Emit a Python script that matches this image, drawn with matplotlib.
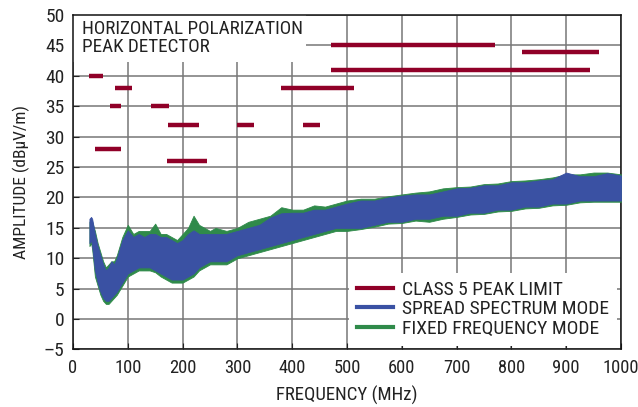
import numpy as np
import matplotlib.pyplot as plt
from matplotlib.patches import Rectangle

plt.rcParams['font.family'] = ['Roboto Condensed', 'DejaVu Sans']

# noise envelopes (MHz, dBuV/m)
freq = [30, 33, 35, 40, 45, 50, 55, 60, 65, 70, 75, 80, 90, 100, 110, 120, 130,
        140, 150, 160, 170, 180, 190, 200, 210, 220, 230, 240, 250, 260, 280,
        300, 320, 340, 360, 380, 400, 420, 440, 460, 480, 500, 525, 550, 575,
        600, 625, 650, 675, 700, 725, 750, 775, 800, 825, 850, 875, 900, 925,
        950, 975, 1000]
ss_lo = [12.5, 13, 12, 8, 6, 4.5, 3.5, 3, 3, 3.5, 4, 4.5, 6, 7.5, 8, 8.5, 8.5,
         8.5, 8, 7.5, 7, 6.5, 6.5, 6.5, 7, 7.5, 8.5, 9, 9.5, 9.5, 9.5,
         10.5, 11, 11.5, 12, 12.5, 13, 13.5, 14, 14.5, 15, 15, 15, 15.5, 16,
         16, 16.5, 16.5, 17, 17, 17.5, 17.5, 18, 18, 18.5, 18.5, 19, 19, 19.5,
         19.5, 19.5, 19.5]
ss_hi = [16.5, 16.8, 16.5, 14, 12, 10.5, 9, 8, 8.5, 9.5, 9, 10, 13, 14.6, 13.5, 14, 13.5,
         14, 14, 13.5, 13.5, 13, 12.5, 13, 14, 14.6, 14, 14, 14, 14, 14,
         14.5, 15, 15.5, 16.7, 17.4, 17.5, 17.5, 18, 18, 18.5, 19, 19.5, 19.5, 20,
         20.3, 20.5, 20.5, 21, 21.5, 21.6, 22, 22, 22.5, 22.5, 22.8, 23, 24.1, 23.5,
         23.5, 24, 23.6]
ff_lo = [12, 12.5, 11.5, 7, 5.5, 4, 3, 2.5, 2.5, 3, 3.5, 4, 5.5, 7, 7.5, 8, 8,
         8, 7.7, 7, 6.5, 6, 6, 6, 6.5, 7, 8, 8.5, 9, 9, 9,
         10, 10.5, 11, 11.5, 12, 12.5, 13, 13.5, 14, 14.5, 14.5, 14.8, 15.2, 15.7,
         15.8, 16.2, 16, 16.5, 16.8, 17.2, 17.3, 17.7, 17.8, 18.2, 18.3, 18.7, 18.8, 19.2,
         19.3, 19.3, 19.3]
ff_hi = [16, 16.5, 16, 14.5, 12.5, 11, 9.5, 8.5, 9, 9.5, 9.5, 10.5, 13.5, 15.5, 14, 14.5, 14.5,
         14.5, 15.7, 14, 14, 13.5, 13, 14, 15, 17, 15.5, 15, 14.5, 15, 14.5,
         15, 16, 16.5, 17, 18.4, 18, 18, 18.7, 18.5, 19, 19.5, 19.8, 19.8, 20.2,
         20.5, 20.8, 21, 21.5, 21.7, 21.8, 22.2, 22.3, 22.7, 22.8, 23, 23.3, 23.8, 23.8,
         24.1, 24.1, 23.8]

# class 5 peak limit segments: (start MHz, stop MHz, level)
lim_start = [30, 41, 68, 76, 142, 171, 174, 300, 380, 420, 470, 470, 820]
lim_stop = [54, 88, 87, 108, 175, 245, 230, 330, 512, 450, 770, 944, 960]
lim_level = [40, 28, 35, 38, 35, 26, 32, 32, 38, 32, 45, 41, 44]

RED = '#900028'
BLUE = '#3a51a3'
GREEN = '#2f8a4a'
TXT = '#222'

fig = plt.figure(figsize=(6.38, 4.07), dpi=100)
ax = fig.add_axes([0.1144, 0.1413, 0.8590, 0.8217])

ax.fill_between(freq, ff_lo, ff_hi, color=GREEN, lw=0.6, zorder=3)
ax.fill_between(freq, ss_lo, ss_hi, color=BLUE, lw=0.6, zorder=4)

for a, b, lv in zip(lim_start, lim_stop, lim_level):
    ax.plot([a, b], [lv, lv], color=RED, lw=3.2, solid_capstyle='butt', zorder=5)

ax.set_xlim(0, 1000)
ax.set_ylim(-5, 50)
ax.set_xticks(np.arange(0, 1001, 100))
ax.set_yticks(np.arange(-5, 51, 5))
ax.set_yticklabels([str(v).replace('-', '\u2013') for v in range(-5, 51, 5)])
ax.tick_params(direction='in', length=4, labelsize=14, colors=TXT)
ax.tick_params(axis='x', pad=7, labelsize=13.3)
ax.tick_params(axis='y', pad=6)
ax.grid(True, color='#777', lw=1.1)
ax.set_axisbelow(True)
for s in ax.spines.values():
    s.set_color('#111')
    s.set_linewidth(1.1)

# white patch behind the title text
ax.add_patch(Rectangle((0, 42.2), 425, 7.8, facecolor='white', edgecolor='none', zorder=1))
ax.text(16, 49.2, 'HORIZONTAL POLARIZATION\nPEAK DETECTOR', ha='left', va='top',
        fontsize=13.8, color=TXT, linespacing=1.0, zorder=6)

ax.set_xlabel('FREQUENCY (MHz)', fontsize=13.5, color=TXT)
ax.set_ylabel('AMPLITUDE (dB\u03bcV/m)', fontsize=12.5, color=TXT)
ax.xaxis.set_label_coords(0.5, -0.108)
ax.yaxis.set_label_coords(-0.078, 0.5)

ax.plot([], [], color=RED, lw=3, label='CLASS 5 PEAK LIMIT')
ax.plot([], [], color=BLUE, lw=3, label='SPREAD SPECTRUM MODE')
ax.plot([], [], color=GREEN, lw=3, label='FIXED FREQUENCY MODE')
leg = ax.legend(loc='lower right', fontsize=14, frameon=True, framealpha=1,
                edgecolor='none', fancybox=False, handlelength=1.85,
                labelspacing=0.08, borderaxespad=0.2, handletextpad=0.5,
                borderpad=0.4)
leg.set_zorder(7)
for t in leg.get_texts():
    t.set_color(TXT)

fig.savefig('out.png', dpi=100)
